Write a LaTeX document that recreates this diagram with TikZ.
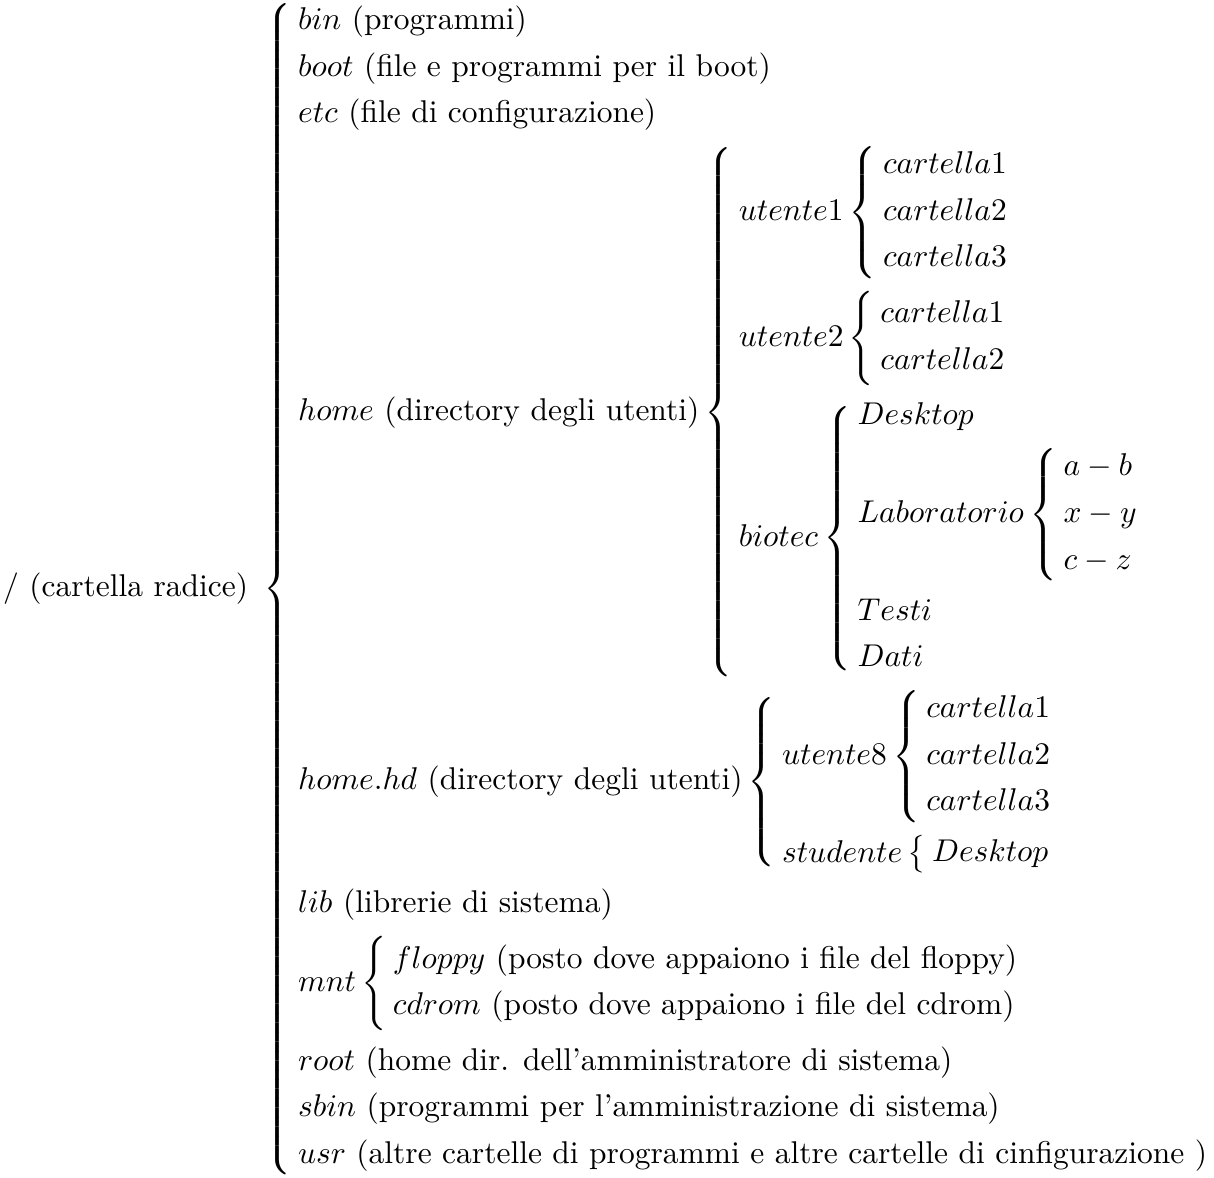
\documentclass[tikz,border=0pt]{standalone}
\usepackage{amsmath}
\usetikzlibrary{calc}
% A brace-opened, left-aligned list; rows sit about 15pt apart, like aligned
\newenvironment{dirlist}{\left\{\vcenter\bgroup\def\\{\cr}%
  \baselineskip=14.8pt \lineskip=4pt \lineskiplimit=2pt
  \ialign\bgroup\hskip2pt\vrule height8.4pt depth3.6pt width0pt$##$\hfil\cr}%
  {\crcr\egroup\egroup\right.}
\tikzset{tree/.style={inner sep=0pt, outer sep=0pt, anchor=center}}
\begin{document}
\begin{tikzpicture}
% The whole directory tree is one nested set of braces in math
\node[tree] (root) {$
/ \text{ (cartella radice) }
\begin{dirlist}
bin \text{ (programmi)}\\
boot \text{ (file e programmi per il boot)}\\
etc \text{ (file di configurazione)}\\
home \text{ (directory degli utenti)}
\begin{dirlist}
utente1 \begin{dirlist} cartella1\\ cartella2\\ cartella3 \end{dirlist}\\
utente2 \begin{dirlist} cartella1\\ cartella2 \end{dirlist}\\
biotec \begin{dirlist}
Desktop\\
Laboratorio \begin{dirlist} a-b\\ x-y\\ c-z \end{dirlist}\\
Testi\\
Dati
\end{dirlist}
\end{dirlist}\\
home.hd \text{ (directory degli utenti)}
\begin{dirlist}
utente8 \begin{dirlist} cartella1\\ cartella2\\ cartella3 \end{dirlist}\\
studente \begin{dirlist} Desktop \end{dirlist}
\end{dirlist}\\
lib \text{ (librerie di sistema)}\\
mnt \begin{dirlist}
floppy \text{ (posto dove appaiono i file del floppy)}\\
cdrom \text{ (posto dove appaiono i file del cdrom)}
\end{dirlist}\\
root \text{ (home dir. dell'amministratore di sistema)}\\
sbin \text{ (programmi per l'amministrazione di sistema)}\\
usr \text{ (altre cartelle di programmi e altre cartelle di cinfigurazione )}
\end{dirlist}
$};
% Page frame: a little larger than the tree, in the page's proportions
\path[use as bounding box]
  let \p1 = ($(root.north east)-(root.south west)$),
      \n1 = {\x1+2pt}, \n2 = {max(\y1+2pt, 0.96458*(\x1+2pt))} in
  ([shift={(-0.5*\n1,-0.5*\n2)}]root.center) rectangle ([shift={(0.5*\n1,0.5*\n2)}]root.center);
\end{tikzpicture}
\end{document}
